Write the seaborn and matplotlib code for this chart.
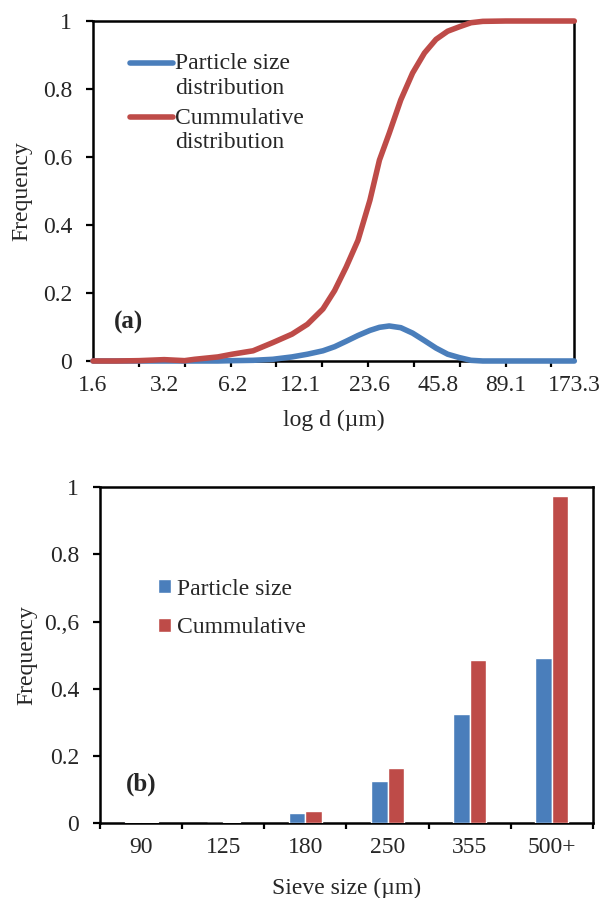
import numpy as np
import pandas as pd
import matplotlib
matplotlib.use("Agg")
import matplotlib.pyplot as plt
from matplotlib.ticker import FixedLocator, NullFormatter
import seaborn as sns

### Data

# (a) laser diffraction curve, diameter in um
diam = [1.6, 2.0, 2.5, 3.2, 3.9, 4.3, 5.4, 6.2, 7.6, 9.2, 11.1, 12.9, 15.0,
        16.8, 18.8, 21.1, 23.7, 26.0, 28.6, 32.0, 35.9, 40.3, 45.1, 50.5,
        56.6, 63.4, 71.1, 89.1, 120.0, 173.3]
psd = [0, 0, 0, 0, 0, 0, 0, 0.001, 0.002, 0.005, 0.012, 0.02, 0.03,
       0.042, 0.058, 0.075, 0.09, 0.099, 0.103, 0.098, 0.082, 0.06, 0.038, 0.02,
       0.01, 0.002, 0, 0, 0, 0]
cum = [0, 0, 0.001, 0.004, 0.001, 0.005, 0.012, 0.02, 0.03, 0.054, 0.079, 0.108, 0.153,
       0.207, 0.276, 0.355, 0.473, 0.591, 0.67, 0.768, 0.847, 0.906, 0.946, 0.97,
       0.983, 0.995, 0.999, 1.0, 1.0, 1.0]
a_ticklabels = ['1.6', '3.2', '6.2', '12.1', '23.6', '45.8', '89.1', '173.3']

# (b) sieve analysis
sieve = ['90', '125', '180', '250', '355', '500+']
sieve_psd = [0.002, 0.001, 0.03, 0.126, 0.325, 0.49]
sieve_cum = [0.003, 0.003, 0.035, 0.163, 0.485, 0.975]
b_yticklabels = ['0', '0.2', '0.4', '0.,6', '0.8', '1']

blue = '#4a7ebb'
red = '#be4b48'

sns.set_theme(style='white')
plt.rcParams['font.family'] = ['Liberation Serif', 'DejaVu Serif']
fs = 17

fig = plt.figure(figsize=(6.1, 8.98), dpi=100)
ax1 = fig.add_axes([0.1525, 0.598, 0.789, 0.3786])
ax2 = fig.add_axes([0.164, 0.0835, 0.808, 0.374])

### (a)
df_a = pd.DataFrame({'d': diam, 'Particle size\ndistribution': psd,
                     'Cummulative\ndistribution': cum})
df_a = df_a.melt(id_vars='d', var_name='series', value_name='freq')
sns.lineplot(data=df_a, x='d', y='freq', hue='series', ax=ax1,
             palette=[blue, red], linewidth=4, clip_on=False, zorder=5)
ax1.set_xscale('log')
ax1.set_xlim(1.6, 173.3)
ax1.set_ylim(0, 1)
lab_pos = [float(t) for t in a_ticklabels]
ax1.xaxis.set_major_locator(FixedLocator(lab_pos))
ax1.set_xticklabels(a_ticklabels)
# tick marks every 2/3 of a label step
step = (np.log(173.3) - np.log(1.6)) / 10.5
ax1.xaxis.set_minor_locator(FixedLocator(np.exp(np.log(1.6) + step * np.arange(11))))
ax1.xaxis.set_minor_formatter(NullFormatter())
ax1.set_yticks([0, 0.2, 0.4, 0.6, 0.8, 1])
ax1.set_yticklabels(['0', '0.2', '0.4', '0.6', '0.8', '1'])
ax1.tick_params(axis='x', which='major', length=0, labelsize=fs, pad=10)
ax1.tick_params(axis='x', which='minor', length=4.5, width=1.6, color='black', direction='out', bottom=True)
ax1.tick_params(axis='y', length=5, width=1.6, color='black', direction='out', left=True, labelsize=fs, pad=10)
ax1.set_xlabel('log d (\u00b5m)', fontsize=fs)
ax1.set_ylabel('Frequency', fontsize=fs)
ax1.xaxis.set_label_coords(0.5, -0.143)
ax1.yaxis.set_label_coords(-0.127, 0.5)
ax1.text(0.073, 0.113, '(a)', transform=ax1.transAxes, fontsize=fs + 1,
         fontweight='bold', ha='center', va='center')
leg1 = ax1.legend(loc='upper left', bbox_to_anchor=(0.077, 0.905), frameon=False,
                  fontsize=fs, handlelength=1.8, handleheight=1.0, handletextpad=0.1,
                  labelspacing=0.4, borderpad=0, borderaxespad=0)
# put the handle next to the first line of each two-line label
for col in leg1._legend_handle_box.get_children():
    for item in col.get_children():
        item.align = 'top'

### (b)
df_b = pd.DataFrame({'sieve': sieve, 'Particle size': sieve_psd, 'Cummulative': sieve_cum})
df_b = df_b.melt(id_vars='sieve', var_name='series', value_name='freq')
sns.barplot(data=df_b, x='sieve', y='freq', hue='series', ax=ax2,
            palette=[blue, red], width=0.4, gap=0, saturation=1, zorder=3)
ax2.set_xlim(-0.5, len(sieve) - 0.5)
ax2.set_ylim(0, 1)
ax2.xaxis.set_minor_locator(FixedLocator(np.arange(len(sieve) + 1) - 0.5))
ax2.tick_params(axis='x', which='major', length=0, labelsize=fs, pad=10)
ax2.tick_params(axis='x', which='minor', length=4.5, width=1.6, color='black', direction='out', bottom=True)
ax2.set_yticks([0, 0.2, 0.4, 0.6, 0.8, 1])
ax2.set_yticklabels(b_yticklabels)
ax2.tick_params(axis='y', length=5, width=1.6, color='black', direction='out', left=True, labelsize=fs, pad=10)
ax2.set_xlabel('Sieve size (\u00b5m)', fontsize=fs)
ax2.set_ylabel('Frequency', fontsize=fs)
ax2.xaxis.set_label_coords(0.5, -0.162)
ax2.yaxis.set_label_coords(-0.128, 0.5)
ax2.text(0.084, 0.114, '(b)', transform=ax2.transAxes, fontsize=fs + 1,
         fontweight='bold', ha='center', va='center')
ax2.legend(loc='upper left', bbox_to_anchor=(0.117, 0.728), frameon=False,
           fontsize=fs, handlelength=0.55, handleheight=0.55, handletextpad=0.27,
           labelspacing=0.75, borderpad=0, borderaxespad=0)

for ax in (ax1, ax2):
    for sp in ax.spines.values():
        sp.set_visible(True)
        sp.set_color('black')
        sp.set_linewidth(1.8)

fig.savefig('out.png', dpi=100, facecolor='white')
